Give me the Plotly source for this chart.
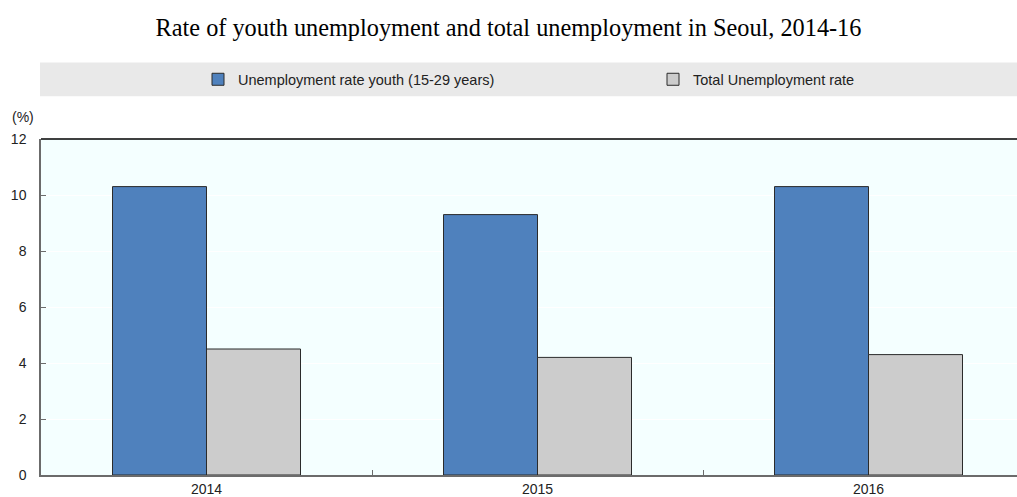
import plotly.graph_objects as go

years = ["2014", "2015", "2016"]
youth_rate = [10.3, 9.3, 10.3]
total_rate = [4.5, 4.2, 4.3]
series_names = ["Unemployment rate youth (15-29 years)", "Total Unemployment rate"]
y_ticks = [0, 2, 4, 6, 8, 10, 12]

W, H = 1017, 497
L, R, T, B = 41, 0, 139, 20
PW, PH = W - L - R, H - T - B


def px_x(p):
    return (p - L) / PW


def px_y(p):
    return (H - B - p) / PH


fig = go.Figure()
fig.add_trace(go.Bar(
    x=years, y=youth_rate, name=series_names[0], legend="legend",
    marker=dict(color="#4F81BD", line=dict(color="#2b2b2b", width=1)),
))
fig.add_trace(go.Bar(
    x=years, y=total_rate, name=series_names[1], legend="legend2",
    marker=dict(color="#CCCCCC", line=dict(color="#2b2b2b", width=1)),
))

# grey band behind the legend
fig.add_shape(type="rect", xref="paper", yref="paper",
              x0=px_x(40), x1=1.0, y0=px_y(96), y1=px_y(62),
              fillcolor="#E9E9E9", line=dict(width=0), layer="below")
# black top border of the plot area
fig.add_shape(type="line", xref="paper", yref="paper",
              x0=0, x1=1, y0=1, y1=1, line=dict(color="#000000", width=1.5))

fig.add_annotation(text="(%)", xref="paper", yref="paper", x=px_x(10), y=px_y(117),
                   xanchor="left", yanchor="middle", showarrow=False,
                   font=dict(family="Liberation Sans, Arial", size=14, color="#222"))

legend_common = dict(orientation="h", yanchor="middle", y=px_y(79),
                     xanchor="left", bgcolor="rgba(0,0,0,0)",
                     font=dict(family="Liberation Sans, Arial", size=14.5, color="#222"))

fig.update_layout(
    width=W, height=H,
    margin=dict(l=L, r=R, t=T, b=B),
    paper_bgcolor="white",
    plot_bgcolor="#F4FFFF",
    barmode="group",
    bargap=0.432,
    bargroupgap=0,
    title=dict(text="Rate of youth unemployment and total unemployment in Seoul, 2014-16",
               x=0.5, xanchor="center", y=1 - 27 / H, yanchor="middle",
               font=dict(family="Liberation Serif, Times New Roman", size=24.3, color="#000")),
    font=dict(family="Liberation Sans, Arial", size=14, color="#222"),
    legend=dict(legend_common, x=px_x(198)),
    legend2=dict(legend_common, x=px_x(653)),
    showlegend=True,
)
fig.update_xaxes(
    range=[-0.5, -0.5 + PW / 331], showgrid=False,
    showline=True, linecolor="#6b6b6b", linewidth=1.5,
    ticks="inside", tickson="boundaries", ticklen=5, tickcolor="#6b6b6b",
    tickfont=dict(size=14, color="#222"), fixedrange=True,
)
fig.update_yaxes(
    range=[0, 12], tickvals=y_ticks, showgrid=True, gridcolor="#FFFFFF", gridwidth=1,
    showline=True, linecolor="#6b6b6b", linewidth=1.5,
    ticks="inside", ticklen=5, tickcolor="#6b6b6b", ticklabelstandoff=10,
    tickfont=dict(size=14, color="#222"), zeroline=False,
)

fig.write_html("out.html")
